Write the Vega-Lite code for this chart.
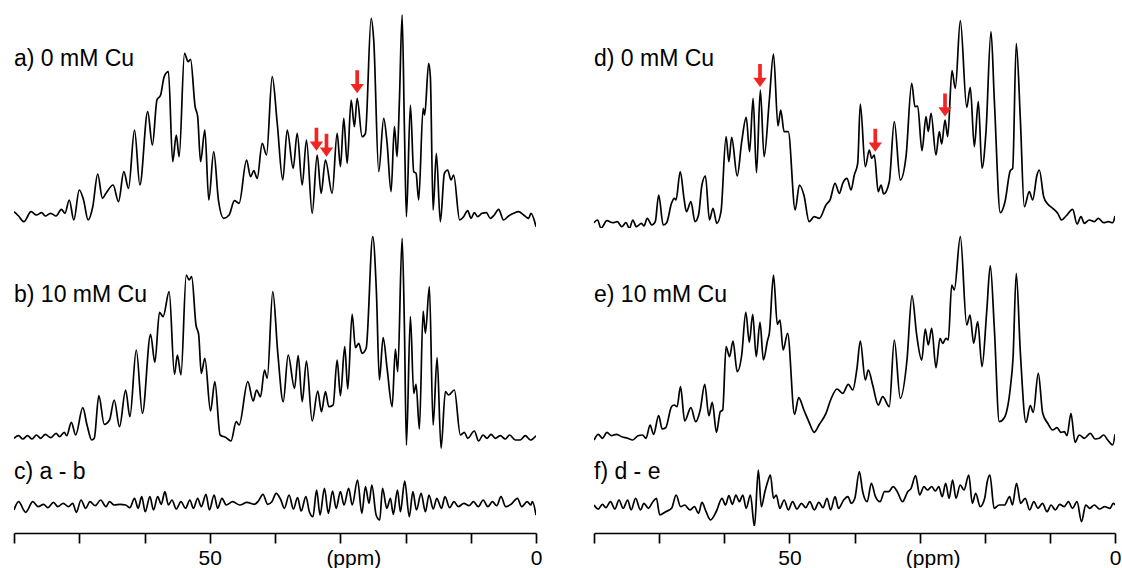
{
"$schema": "https://vega.github.io/schema/vega-lite/v6.json",
"padding": {"left": 13, "top": 8, "right": 0, "bottom": 0},
"config": {"view": {"stroke": null}, "font": "Liberation Sans", "text": {"font": "Liberation Sans"}},
"datasets": {
"a": [{"ppm":80.0,"i":16.3},{"ppm":79.30,"i":12},{"ppm":78.48,"i":6.3},{"ppm":77.38,"i":16.3},{"ppm":76.57,"i":13},{"ppm":75.76,"i":15.3},{"ppm":75.21,"i":12},{"ppm":74.38,"i":14.7},{"ppm":73.55,"i":12},{"ppm":72.74,"i":18.7},{"ppm":72.19,"i":14.7},{"ppm":71.53,"i":28},{"ppm":70.83,"i":8},{"ppm":70.00,"i":38},{"ppm":69.34,"i":28},{"ppm":68.64,"i":8},{"ppm":67.93,"i":21.3},{"ppm":67.17,"i":54},{"ppm":66.45,"i":29.7},{"ppm":65.90,"i":34.7},{"ppm":64.81,"i":43},{"ppm":63.98,"i":26.3},{"ppm":63.17,"i":56.3},{"ppm":62.45,"i":39.7},{"ppm":61.53,"i":98},{"ppm":60.71,"i":43},{"ppm":59.51,"i":116.3},{"ppm":58.79,"i":83},{"ppm":58.09,"i":128},{"ppm":57.53,"i":133},{"ppm":56.98,"i":151.3},{"ppm":56.33,"i":156.3},{"ppm":55.68,"i":66.3},{"ppm":55.13,"i":93},{"ppm":54.69,"i":71.3},{"ppm":53.87,"i":174.7},{"ppm":53.32,"i":166.3},{"ppm":52.94,"i":168.7},{"ppm":52.24,"i":121.3},{"ppm":51.85,"i":111.3},{"ppm":51.41,"i":66.3},{"ppm":50.75,"i":98},{"ppm":50.15,"i":28},{"ppm":49.39,"i":76.3},{"ppm":48.67,"i":28},{"ppm":47.86,"i":9.7},{"ppm":47.03,"i":13},{"ppm":46.22,"i":27.3},{"ppm":45.50,"i":24.7},{"ppm":44.36,"i":68},{"ppm":43.75,"i":51.3},{"ppm":43.25,"i":57.3},{"ppm":42.73,"i":49.7},{"ppm":41.96,"i":84.7},{"ppm":41.30,"i":73},{"ppm":40.43,"i":151.3},{"ppm":39.66,"i":105},{"ppm":38.81,"i":48},{"ppm":38.13,"i":98},{"ppm":37.21,"i":59.7},{"ppm":36.60,"i":94.7},{"ppm":35.83,"i":43},{"ppm":35.18,"i":88},{"ppm":34.30,"i":14.7},{"ppm":33.54,"i":73},{"ppm":32.93,"i":34.7},{"ppm":32.27,"i":68},{"ppm":31.24,"i":34.7},{"ppm":30.48,"i":94.7},{"ppm":29.97,"i":61.3},{"ppm":29.46,"i":109.7},{"ppm":28.94,"i":64.7},{"ppm":28.33,"i":128},{"ppm":27.83,"i":101.3},{"ppm":27.41,"i":129.7},{"ppm":26.65,"i":91.3},{"ppm":26.14,"i":94.7},{"ppm":25.27,"i":209.7},{"ppm":24.87,"i":188},{"ppm":24.10,"i":56.3},{"ppm":23.34,"i":109.7},{"ppm":22.82,"i":84.7},{"ppm":22.21,"i":36.3},{"ppm":21.70,"i":101.3},{"ppm":21.29,"i":71.3},{"ppm":20.93,"i":128},{"ppm":20.52,"i":213},{"ppm":20.17,"i":101.3},{"ppm":19.86,"i":11.3},{"ppm":19.25,"i":123},{"ppm":18.74,"i":56.3},{"ppm":18.38,"i":54.7},{"ppm":17.98,"i":28},{"ppm":17.30,"i":119.7},{"ppm":17.06,"i":113},{"ppm":16.45,"i":164.7},{"ppm":16.19,"i":151.3},{"ppm":15.77,"i":18},{"ppm":15.27,"i":74.7},{"ppm":14.66,"i":6.3},{"ppm":14.04,"i":54.7},{"ppm":13.54,"i":58},{"ppm":13.02,"i":48},{"ppm":12.62,"i":53},{"ppm":11.70,"i":8},{"ppm":11.09,"i":11.3},{"ppm":10.47,"i":17.3},{"ppm":9.95,"i":9.7},{"ppm":9.45,"i":15.3},{"ppm":8.94,"i":11.3},{"ppm":8.27,"i":14.7},{"ppm":7.61,"i":15.3},{"ppm":7.00,"i":9.7},{"ppm":6.39,"i":13},{"ppm":5.73,"i":18.7},{"ppm":4.96,"i":8},{"ppm":4.20,"i":12},{"ppm":3.43,"i":14.7},{"ppm":2.66,"i":16.3},{"ppm":1.90,"i":13},{"ppm":1.13,"i":9.7},{"ppm":0.77,"i":14.7},{"ppm":0.0,"i":1.3}],
"b": [{"ppm":80.0,"i":13.7},{"ppm":79.30,"i":16.3},{"ppm":78.65,"i":13},{"ppm":77.93,"i":16.3},{"ppm":77.23,"i":13},{"ppm":76.57,"i":17},{"ppm":75.91,"i":13.7},{"ppm":75.21,"i":17.7},{"ppm":74.38,"i":14.3},{"ppm":73.55,"i":18.7},{"ppm":73.02,"i":15.3},{"ppm":72.30,"i":19.7},{"ppm":71.92,"i":16.3},{"ppm":71.21,"i":29.7},{"ppm":70.55,"i":17},{"ppm":69.46,"i":44.3},{"ppm":68.81,"i":27},{"ppm":68.09,"i":12},{"ppm":67.70,"i":13.7},{"ppm":67.00,"i":56.3},{"ppm":66.17,"i":27.7},{"ppm":65.36,"i":32},{"ppm":64.64,"i":52},{"ppm":63.83,"i":25.3},{"ppm":62.89,"i":62},{"ppm":62.24,"i":35.3},{"ppm":61.26,"i":102},{"ppm":60.32,"i":38.7},{"ppm":59.07,"i":117.7},{"ppm":58.41,"i":89.7},{"ppm":57.70,"i":139.7},{"ppm":57.15,"i":135.3},{"ppm":56.22,"i":160.3},{"ppm":55.41,"i":77.7},{"ppm":54.96,"i":97},{"ppm":54.41,"i":77},{"ppm":53.60,"i":177},{"ppm":53.16,"i":172},{"ppm":52.77,"i":175.3},{"ppm":52.11,"i":127},{"ppm":51.69,"i":117},{"ppm":51.30,"i":78.7},{"ppm":50.75,"i":93.7},{"ppm":49.88,"i":41},{"ppm":49.22,"i":70.3},{"ppm":48.41,"i":17},{"ppm":47.58,"i":14.7},{"ppm":46.75,"i":11},{"ppm":45.94,"i":30.3},{"ppm":45.50,"i":27},{"ppm":44.17,"i":70.3},{"ppm":43.34,"i":51},{"ppm":42.83,"i":62},{"ppm":42.22,"i":55.3},{"ppm":41.61,"i":82},{"ppm":41.19,"i":73.7},{"ppm":40.34,"i":160.3},{"ppm":39.57,"i":98.7},{"ppm":38.74,"i":50.3},{"ppm":37.98,"i":97},{"ppm":37.01,"i":63.7},{"ppm":36.45,"i":96.3},{"ppm":35.83,"i":50.3},{"ppm":35.18,"i":91},{"ppm":34.30,"i":31},{"ppm":33.45,"i":61},{"ppm":32.88,"i":40.3},{"ppm":32.27,"i":60.3},{"ppm":31.76,"i":45.3},{"ppm":31.09,"i":47},{"ppm":30.48,"i":92},{"ppm":29.97,"i":56.3},{"ppm":29.31,"i":105.3},{"ppm":28.85,"i":63},{"ppm":28.18,"i":137.7},{"ppm":27.67,"i":104.3},{"ppm":27.17,"i":108.7},{"ppm":26.65,"i":98.7},{"ppm":26.03,"i":103.7},{"ppm":25.02,"i":215.3},{"ppm":24.46,"i":160.3},{"ppm":24.00,"i":72},{"ppm":23.43,"i":114.3},{"ppm":22.82,"i":83.7},{"ppm":22.05,"i":45.3},{"ppm":21.55,"i":103},{"ppm":21.19,"i":80.3},{"ppm":20.52,"i":213.7},{"ppm":20.17,"i":127},{"ppm":19.86,"i":7},{"ppm":19.25,"i":135.3},{"ppm":18.74,"i":58.7},{"ppm":18.38,"i":67.7},{"ppm":17.87,"i":23},{"ppm":17.30,"i":141},{"ppm":16.95,"i":118.7},{"ppm":16.34,"i":165.3},{"ppm":15.77,"i":27},{"ppm":15.16,"i":94.3},{"ppm":14.55,"i":3.7},{"ppm":13.89,"i":60.3},{"ppm":13.38,"i":57},{"ppm":12.51,"i":62},{"ppm":11.59,"i":17},{"ppm":10.98,"i":19.7},{"ppm":10.47,"i":13.7},{"ppm":9.45,"i":21},{"ppm":8.79,"i":11},{"ppm":8.12,"i":17},{"ppm":7.50,"i":13.7},{"ppm":6.89,"i":17.7},{"ppm":6.23,"i":13.7},{"ppm":5.47,"i":16.3},{"ppm":4.70,"i":13},{"ppm":4.04,"i":17},{"ppm":3.17,"i":12},{"ppm":2.40,"i":12},{"ppm":1.64,"i":16.3},{"ppm":0.87,"i":12},{"ppm":0.0,"i":16.3}],
"c": [{"ppm":80.0,"i":16},{"ppm":79.30,"i":24.3},{"ppm":78.21,"i":13.7},{"ppm":77.12,"i":24.3},{"ppm":76.29,"i":19.3},{"ppm":75.47,"i":21.7},{"ppm":74.82,"i":18.3},{"ppm":73.94,"i":23.7},{"ppm":73.29,"i":19.3},{"ppm":72.47,"i":22.7},{"ppm":71.64,"i":19.3},{"ppm":71.00,"i":22.7},{"ppm":70.44,"i":13.7},{"ppm":69.73,"i":26},{"ppm":69.02,"i":17.7},{"ppm":68.36,"i":24.3},{"ppm":67.55,"i":20.3},{"ppm":66.72,"i":26},{"ppm":65.90,"i":19.3},{"ppm":65.36,"i":24.3},{"ppm":64.64,"i":21},{"ppm":63.72,"i":21.7},{"ppm":62.89,"i":21},{"ppm":62.24,"i":18.3},{"ppm":61.53,"i":27.7},{"ppm":60.98,"i":17.7},{"ppm":60.43,"i":29.3},{"ppm":59.89,"i":14.3},{"ppm":59.17,"i":29.3},{"ppm":58.62,"i":16},{"ppm":57.98,"i":29.3},{"ppm":57.43,"i":21.7},{"ppm":56.88,"i":34.3},{"ppm":56.33,"i":21},{"ppm":55.79,"i":26},{"ppm":55.13,"i":17},{"ppm":54.41,"i":24.3},{"ppm":53.71,"i":17.7},{"ppm":53.05,"i":26},{"ppm":52.50,"i":17.7},{"ppm":51.85,"i":27.7},{"ppm":51.30,"i":19.3},{"ppm":50.58,"i":31.7},{"ppm":50.05,"i":16},{"ppm":49.33,"i":31},{"ppm":48.79,"i":17.7},{"ppm":48.13,"i":27.7},{"ppm":47.47,"i":21},{"ppm":46.49,"i":24.3},{"ppm":45.39,"i":21},{"ppm":44.30,"i":23.7},{"ppm":43.20,"i":21.7},{"ppm":42.54,"i":25},{"ppm":41.84,"i":31.7},{"ppm":41.13,"i":21.7},{"ppm":40.48,"i":24.3},{"ppm":39.82,"i":32.7},{"ppm":39.10,"i":26},{"ppm":38.56,"i":17.7},{"ppm":37.84,"i":31},{"ppm":37.18,"i":17},{"ppm":36.54,"i":28.3},{"ppm":35.99,"i":15},{"ppm":35.27,"i":29.3},{"ppm":34.73,"i":14.3},{"ppm":34.18,"i":9.3},{"ppm":33.63,"i":36},{"ppm":33.09,"i":11},{"ppm":32.43,"i":37.7},{"ppm":31.82,"i":12.7},{"ppm":31.18,"i":35},{"ppm":30.63,"i":17.7},{"ppm":29.97,"i":34.3},{"ppm":29.42,"i":21},{"ppm":28.71,"i":37.7},{"ppm":28.16,"i":21},{"ppm":27.35,"i":46},{"ppm":26.69,"i":12.7},{"ppm":26.14,"i":39.3},{"ppm":25.59,"i":22.7},{"ppm":25.16,"i":41},{"ppm":24.50,"i":11},{"ppm":23.95,"i":6},{"ppm":23.52,"i":37.7},{"ppm":22.86,"i":17.7},{"ppm":22.31,"i":27.7},{"ppm":21.87,"i":11.7},{"ppm":21.23,"i":36},{"ppm":20.78,"i":14.3},{"ppm":20.12,"i":45},{"ppm":19.42,"i":9.3},{"ppm":18.87,"i":34.3},{"ppm":18.32,"i":16},{"ppm":17.61,"i":32.7},{"ppm":16.95,"i":14.3},{"ppm":16.40,"i":31},{"ppm":15.74,"i":17},{"ppm":15.21,"i":27.7},{"ppm":14.49,"i":17.7},{"ppm":13.95,"i":29.3},{"ppm":13.23,"i":18.3},{"ppm":12.57,"i":24.3},{"ppm":11.91,"i":19.3},{"ppm":11.04,"i":22.7},{"ppm":10.28,"i":20.3},{"ppm":9.57,"i":24.3},{"ppm":8.85,"i":19.3},{"ppm":8.09,"i":26},{"ppm":7.38,"i":19.3},{"ppm":6.68,"i":24.3},{"ppm":6.02,"i":20.3},{"ppm":5.36,"i":29.3},{"ppm":4.64,"i":19.3},{"ppm":3.83,"i":21.7},{"ppm":2.85,"i":27.7},{"ppm":2.19,"i":19.3},{"ppm":1.36,"i":24.3},{"ppm":0.81,"i":21},{"ppm":0.55,"i":24.3},{"ppm":0.0,"i":11}],
"d": [{"ppm":80.0,"i":5.3},{"ppm":79.45,"i":8},{"ppm":78.93,"i":-0.3},{"ppm":78.02,"i":7.3},{"ppm":77.11,"i":5.3},{"ppm":76.42,"i":6.3},{"ppm":75.73,"i":1.3},{"ppm":75.10,"i":5.3},{"ppm":74.56,"i":-0.3},{"ppm":74.04,"i":8},{"ppm":73.50,"i":1.3},{"ppm":72.71,"i":4.7},{"ppm":72.34,"i":2},{"ppm":71.82,"i":9.7},{"ppm":71.12,"i":3},{"ppm":70.59,"i":6.3},{"ppm":70.07,"i":33},{"ppm":69.37,"i":3},{"ppm":68.84,"i":5.3},{"ppm":68.10,"i":24.7},{"ppm":67.67,"i":29.7},{"ppm":67.41,"i":28},{"ppm":66.76,"i":56.3},{"ppm":66.18,"i":29.7},{"ppm":65.81,"i":16.3},{"ppm":65.12,"i":26.3},{"ppm":64.49,"i":6.3},{"ppm":63.95,"i":13},{"ppm":63.43,"i":43},{"ppm":62.89,"i":52},{"ppm":62.27,"i":8},{"ppm":61.73,"i":19.7},{"ppm":61.14,"i":4.7},{"ppm":60.50,"i":16.3},{"ppm":59.72,"i":91.3},{"ppm":59.29,"i":66.3},{"ppm":58.86,"i":90.7},{"ppm":58.01,"i":52},{"ppm":57.32,"i":86.3},{"ppm":56.63,"i":110.7},{"ppm":56.11,"i":76.3},{"ppm":55.57,"i":129.7},{"ppm":55.05,"i":55.3},{"ppm":54.46,"i":138},{"ppm":53.88,"i":71.3},{"ppm":53.08,"i":128},{"ppm":52.44,"i":174},{"ppm":51.75,"i":102},{"ppm":51.33,"i":118},{"ppm":50.80,"i":96.3},{"ppm":50.17,"i":96.3},{"ppm":49.11,"i":18},{"ppm":48.46,"i":43},{"ppm":47.77,"i":33},{"ppm":46.97,"i":6.3},{"ppm":46.19,"i":11.3},{"ppm":45.39,"i":9.7},{"ppm":44.38,"i":23},{"ppm":43.72,"i":28.7},{"ppm":42.99,"i":44.7},{"ppm":42.33,"i":34.7},{"ppm":41.81,"i":44.7},{"ppm":41.15,"i":49.7},{"ppm":40.54,"i":38},{"ppm":40.03,"i":53},{"ppm":39.51,"i":64.7},{"ppm":39.11,"i":124},{"ppm":38.34,"i":61.3},{"ppm":37.73,"i":78},{"ppm":37.36,"i":69.7},{"ppm":36.96,"i":73},{"ppm":36.35,"i":36.3},{"ppm":35.93,"i":43},{"ppm":35.52,"i":34},{"ppm":34.66,"i":46.3},{"ppm":33.89,"i":106.3},{"ppm":32.97,"i":48},{"ppm":32.09,"i":71.3},{"ppm":31.22,"i":144.7},{"ppm":30.71,"i":121.3},{"ppm":30.30,"i":122},{"ppm":29.64,"i":77.3},{"ppm":29.02,"i":111.3},{"ppm":28.67,"i":96.3},{"ppm":28.25,"i":114.7},{"ppm":27.49,"i":73},{"ppm":26.98,"i":96.3},{"ppm":26.61,"i":84},{"ppm":26.10,"i":108},{"ppm":25.69,"i":91.3},{"ppm":25.03,"i":157.3},{"ppm":24.52,"i":139.7},{"ppm":23.75,"i":207.3},{"ppm":22.77,"i":120.7},{"ppm":22.22,"i":140.7},{"ppm":21.60,"i":81.3},{"ppm":20.99,"i":126.3},{"ppm":20.42,"i":59.7},{"ppm":19.81,"i":96.3},{"ppm":19.04,"i":196.3},{"ppm":18.53,"i":128},{"ppm":17.61,"i":15.3},{"ppm":16.89,"i":26.3},{"ppm":16.08,"i":57.3},{"ppm":15.71,"i":59.7},{"ppm":15.16,"i":184.7},{"ppm":14.54,"i":109.7},{"ppm":13.93,"i":21.3},{"ppm":13.16,"i":36.3},{"ppm":12.64,"i":28},{"ppm":11.98,"i":53},{"ppm":11.62,"i":58},{"ppm":10.95,"i":31.3},{"ppm":10.33,"i":24},{"ppm":9.57,"i":19.7},{"ppm":8.80,"i":14.7},{"ppm":8.18,"i":8},{"ppm":7.52,"i":12},{"ppm":6.50,"i":18.7},{"ppm":5.83,"i":4},{"ppm":5.22,"i":11.3},{"ppm":4.71,"i":4.7},{"ppm":3.95,"i":8},{"ppm":3.18,"i":6.3},{"ppm":2.56,"i":9.7},{"ppm":1.74,"i":5.3},{"ppm":1.03,"i":6.3},{"ppm":0.35,"i":5.3},{"ppm":0.0,"i":12}],
"e": [{"ppm":80.0,"i":12},{"ppm":79.34,"i":17.7},{"ppm":78.71,"i":13.7},{"ppm":78.02,"i":19.7},{"ppm":77.33,"i":16.3},{"ppm":76.59,"i":17.7},{"ppm":75.73,"i":15.3},{"ppm":74.84,"i":13.7},{"ppm":74.04,"i":12},{"ppm":73.24,"i":16.3},{"ppm":72.55,"i":17},{"ppm":72.01,"i":13.7},{"ppm":71.39,"i":27},{"ppm":70.85,"i":17.7},{"ppm":70.07,"i":36.3},{"ppm":69.53,"i":23},{"ppm":68.99,"i":24.3},{"ppm":68.10,"i":45.3},{"ppm":67.67,"i":47},{"ppm":67.24,"i":45.3},{"ppm":66.72,"i":65.3},{"ppm":66.07,"i":31},{"ppm":65.12,"i":44.3},{"ppm":64.38,"i":30.3},{"ppm":63.69,"i":42},{"ppm":63.00,"i":67.7},{"ppm":62.36,"i":36.3},{"ppm":61.84,"i":49.7},{"ppm":61.19,"i":19.7},{"ppm":60.61,"i":40.3},{"ppm":60.24,"i":42},{"ppm":59.72,"i":105.3},{"ppm":59.18,"i":95.3},{"ppm":58.66,"i":111},{"ppm":58.01,"i":80.3},{"ppm":57.32,"i":97},{"ppm":56.69,"i":139.7},{"ppm":56.15,"i":109.7},{"ppm":55.63,"i":137.7},{"ppm":55.09,"i":95.3},{"ppm":54.51,"i":129.7},{"ppm":53.99,"i":92},{"ppm":53.34,"i":112},{"ppm":53.08,"i":118.7},{"ppm":52.44,"i":177},{"ppm":51.85,"i":127.7},{"ppm":51.44,"i":132},{"ppm":50.96,"i":102},{"ppm":50.27,"i":118.7},{"ppm":49.21,"i":37.7},{"ppm":48.57,"i":54.3},{"ppm":47.77,"i":42},{"ppm":46.97,"i":29.7},{"ppm":46.19,"i":19.7},{"ppm":45.39,"i":27.7},{"ppm":44.38,"i":38.7},{"ppm":43.61,"i":53},{"ppm":42.69,"i":63},{"ppm":41.81,"i":58.7},{"ppm":40.95,"i":67.7},{"ppm":40.28,"i":62},{"ppm":39.62,"i":83.7},{"ppm":39.11,"i":111},{"ppm":38.34,"i":72},{"ppm":37.88,"i":82},{"ppm":37.21,"i":67},{"ppm":36.35,"i":47},{"ppm":35.67,"i":55.3},{"ppm":34.66,"i":45.3},{"ppm":33.89,"i":112},{"ppm":32.97,"i":53.7},{"ppm":31.94,"i":92},{"ppm":31.17,"i":156.3},{"ppm":30.45,"i":117},{"ppm":29.68,"i":92},{"ppm":29.13,"i":123},{"ppm":28.67,"i":107},{"ppm":28.15,"i":123.7},{"ppm":27.49,"i":84.3},{"ppm":26.87,"i":113.7},{"ppm":26.46,"i":108.7},{"ppm":25.95,"i":113.7},{"ppm":25.60,"i":112},{"ppm":25.07,"i":167},{"ppm":24.68,"i":162},{"ppm":23.75,"i":215.3},{"ppm":22.77,"i":127},{"ppm":22.26,"i":137},{"ppm":21.70,"i":108.7},{"ppm":21.08,"i":130.3},{"ppm":20.42,"i":85.3},{"ppm":19.70,"i":140.3},{"ppm":19.15,"i":186.3},{"ppm":18.53,"i":123.7},{"ppm":17.77,"i":30.3},{"ppm":17.00,"i":34.3},{"ppm":16.08,"i":63.7},{"ppm":15.66,"i":93.7},{"ppm":15.16,"i":178.7},{"ppm":14.54,"i":100.3},{"ppm":13.67,"i":29.7},{"ppm":13.01,"i":46.3},{"ppm":12.55,"i":39.7},{"ppm":11.78,"i":78.7},{"ppm":11.10,"i":38.7},{"ppm":10.33,"i":28.7},{"ppm":9.57,"i":22},{"ppm":8.91,"i":24.3},{"ppm":8.29,"i":19.7},{"ppm":7.79,"i":20.3},{"ppm":7.37,"i":16.3},{"ppm":6.76,"i":38.7},{"ppm":6.14,"i":9.7},{"ppm":5.48,"i":17},{"ppm":4.71,"i":13.7},{"ppm":3.79,"i":18.7},{"ppm":3.07,"i":13},{"ppm":2.41,"i":13.7},{"ppm":1.74,"i":17},{"ppm":1.12,"i":12},{"ppm":0.35,"i":7},{"ppm":0.0,"i":17.7}],
"f": [{"ppm":80.0,"i":21},{"ppm":79.34,"i":17},{"ppm":78.71,"i":21.7},{"ppm":78.17,"i":18.3},{"ppm":77.48,"i":24.3},{"ppm":76.79,"i":17},{"ppm":76.16,"i":26},{"ppm":75.52,"i":17.7},{"ppm":74.83,"i":26},{"ppm":74.30,"i":16},{"ppm":73.61,"i":27.7},{"ppm":72.86,"i":16},{"ppm":72.34,"i":22.7},{"ppm":71.65,"i":17.7},{"ppm":70.96,"i":24.3},{"ppm":70.42,"i":27.7},{"ppm":69.90,"i":11},{"ppm":68.99,"i":14.3},{"ppm":68.08,"i":17.7},{"ppm":67.39,"i":31},{"ppm":66.70,"i":19.3},{"ppm":66.07,"i":21},{"ppm":65.27,"i":16},{"ppm":64.58,"i":19.3},{"ppm":63.95,"i":12.7},{"ppm":63.42,"i":23.7},{"ppm":62.79,"i":14.3},{"ppm":62.10,"i":6},{"ppm":61.19,"i":15},{"ppm":60.35,"i":27.7},{"ppm":59.81,"i":21},{"ppm":59.29,"i":30.3},{"ppm":58.75,"i":21.7},{"ppm":58.21,"i":31},{"ppm":57.69,"i":24.3},{"ppm":57.15,"i":31},{"ppm":56.63,"i":17.7},{"ppm":55.98,"i":31},{"ppm":55.36,"i":-0.7},{"ppm":54.77,"i":56},{"ppm":54.30,"i":19.3},{"ppm":53.76,"i":34.3},{"ppm":53.33,"i":44.3},{"ppm":52.91,"i":51},{"ppm":52.44,"i":27.7},{"ppm":52.01,"i":31},{"ppm":51.47,"i":17.7},{"ppm":50.80,"i":26},{"ppm":50.15,"i":16},{"ppm":49.52,"i":24.3},{"ppm":48.83,"i":17},{"ppm":48.14,"i":22.7},{"ppm":47.49,"i":18.3},{"ppm":46.86,"i":24.3},{"ppm":46.17,"i":16},{"ppm":45.48,"i":23.7},{"ppm":44.84,"i":18.3},{"ppm":44.21,"i":27.7},{"ppm":43.67,"i":16},{"ppm":42.98,"i":29.3},{"ppm":42.46,"i":17.7},{"ppm":41.66,"i":26},{"ppm":41.01,"i":29.3},{"ppm":40.49,"i":22.7},{"ppm":39.95,"i":27.7},{"ppm":39.26,"i":54.3},{"ppm":38.74,"i":34.3},{"ppm":38.05,"i":24.3},{"ppm":37.41,"i":42.7},{"ppm":36.78,"i":29.3},{"ppm":36.08,"i":24.3},{"ppm":35.39,"i":34.3},{"ppm":34.76,"i":34.3},{"ppm":34.07,"i":39.3},{"ppm":33.43,"i":34.3},{"ppm":32.63,"i":24.3},{"ppm":31.83,"i":34.3},{"ppm":31.31,"i":37.7},{"ppm":30.62,"i":50.3},{"ppm":29.99,"i":31},{"ppm":29.34,"i":39.3},{"ppm":28.81,"i":36},{"ppm":28.13,"i":39.3},{"ppm":27.59,"i":35},{"ppm":27.06,"i":39.3},{"ppm":26.53,"i":29.3},{"ppm":26.00,"i":42.7},{"ppm":25.47,"i":27.7},{"ppm":24.94,"i":46},{"ppm":24.41,"i":27.7},{"ppm":23.77,"i":41},{"ppm":23.19,"i":36},{"ppm":22.45,"i":51},{"ppm":21.91,"i":22.7},{"ppm":21.39,"i":32.7},{"ppm":20.70,"i":19.3},{"ppm":20.01,"i":27.7},{"ppm":19.62,"i":44.3},{"ppm":19.21,"i":51},{"ppm":18.56,"i":17.7},{"ppm":17.78,"i":21},{"ppm":16.98,"i":21},{"ppm":16.18,"i":29.3},{"ppm":15.75,"i":21},{"ppm":15.12,"i":42.7},{"ppm":14.48,"i":22.7},{"ppm":13.79,"i":27.7},{"ppm":13.10,"i":16},{"ppm":12.47,"i":24.3},{"ppm":11.82,"i":17.7},{"ppm":11.13,"i":22.7},{"ppm":10.44,"i":14.3},{"ppm":9.81,"i":21},{"ppm":9.17,"i":16},{"ppm":8.49,"i":21.7},{"ppm":7.80,"i":19.3},{"ppm":7.16,"i":24.3},{"ppm":6.53,"i":17.7},{"ppm":5.83,"i":24.3},{"ppm":5.14,"i":4.3},{"ppm":4.50,"i":21},{"ppm":3.87,"i":17.7},{"ppm":3.18,"i":21},{"ppm":2.38,"i":17},{"ppm":1.58,"i":19.3},{"ppm":0.78,"i":17.7},{"ppm":0.26,"i":22.7},{"ppm":0.0,"i":21}],
"arrowsA": [{"ppm":33.65,"i":77.3},{"ppm":32.11,"i":71.3},{"ppm":27.41,"i":134.7}],
"arrowsD": [{"ppm":54.51,"i":141},{"ppm":36.81,"i":76.3},{"ppm":26.10,"i":111.5}]
},
"spacing": 51,
"hconcat": [
{"vconcat": [
 {"width": 522, "height": 220, "layer": [
  {"data": {"name": "a"}, "mark": {"type": "line", "color": "black", "strokeWidth": 1.7, "interpolate": "monotone", "clip": true},
   "encoding": {"x": {"field": "ppm", "type": "quantitative", "scale": {"domain": [80, 0], "nice": false, "zero": false}, "axis": null},
                "y": {"field": "i", "type": "quantitative", "scale": {"domain": [0, 220], "nice": false, "zero": false}, "axis": null}}},
  {"data": {"name": "arrowsA"}, "mark": {"type": "point", "shape": "M-0.16,-1L0.16,-1L0.16,0.2L0.58,0.2L0,1L-0.58,0.2L-0.16,0.2Z", "filled": true, "color": "#f22424", "opacity": 1, "size": 529, "yOffset": -11.5, "strokeWidth": 0},
   "encoding": {"x": {"field": "ppm", "type": "quantitative"}, "y": {"field": "i", "type": "quantitative"}}},
  {"data": {"values": [{}]}, "mark": {"type": "text", "align": "left", "baseline": "middle", "fontSize": 23, "color": "black"},
   "encoding": {"x": {"datum": 80}, "y": {"datum": 169}, "text": {"value": "a) 0 mM Cu"}}}
 ]},
 {"width": 522, "height": 220, "layer": [
  {"data": {"name": "b"}, "mark": {"type": "line", "color": "black", "strokeWidth": 1.7, "interpolate": "monotone", "clip": true},
   "encoding": {"x": {"field": "ppm", "type": "quantitative", "scale": {"domain": [80, 0], "nice": false, "zero": false}, "axis": null},
                "y": {"field": "i", "type": "quantitative", "scale": {"domain": [0, 220], "nice": false, "zero": false}, "axis": null}}},
  {"data": {"values": [{}]}, "mark": {"type": "text", "align": "left", "baseline": "middle", "fontSize": 23, "color": "black"},
   "encoding": {"x": {"datum": 80}, "y": {"datum": 157}, "text": {"value": "b) 10 mM Cu"}}}
 ]},
 {"width": 522, "height": 70, "layer": [
  {"data": {"name": "c"}, "mark": {"type": "line", "color": "black", "strokeWidth": 1.7, "interpolate": "monotone", "clip": true},
   "encoding": {"x": {"field": "ppm", "type": "quantitative", "scale": {"domain": [80, 0], "nice": false, "zero": false},
                  "axis": {"values": [80,70,60,50,40,30,20,10,0], "labelExpr": "datum.value == 50 ? '50' : datum.value == 0 ? '0' : ''", "offset": 7, "tickSize": 10, "tickWidth": 1.7, "tickColor": "black", "domainWidth": 1.7, "domainColor": "black", "labelColor": "black", "labelFontSize": 21, "labelFont": "Liberation Sans", "labelPadding": 4, "labelFlush": false, "labelOverlap": false, "grid": false, "title": "(ppm)", "titleX": 339.3, "titleY": 14, "titleBaseline": "top", "titleAlign": "center", "titleFontSize": 21, "titleFontWeight": "normal", "titleFont": "Liberation Sans", "titleColor": "black"}},
                "y": {"field": "i", "type": "quantitative", "scale": {"domain": [0, 70], "nice": false, "zero": false}, "axis": null}}},
  {"data": {"values": [{}]}, "mark": {"type": "text", "align": "left", "baseline": "middle", "fontSize": 23, "color": "black"},
   "encoding": {"x": {"datum": 80}, "y": {"datum": 54}, "text": {"value": "c) a - b"}}}
 ]}
], "spacing": 4, "bounds": "flush"},
{"vconcat": [
 {"width": 521, "height": 220, "layer": [
  {"data": {"name": "d"}, "mark": {"type": "line", "color": "black", "strokeWidth": 1.7, "interpolate": "monotone", "clip": true},
   "encoding": {"x": {"field": "ppm", "type": "quantitative", "scale": {"domain": [80, 0], "nice": false, "zero": false}, "axis": null},
                "y": {"field": "i", "type": "quantitative", "scale": {"domain": [0, 220], "nice": false, "zero": false}, "axis": null}}},
  {"data": {"name": "arrowsD"}, "mark": {"type": "point", "shape": "M-0.16,-1L0.16,-1L0.16,0.2L0.58,0.2L0,1L-0.58,0.2L-0.16,0.2Z", "filled": true, "color": "#f22424", "opacity": 1, "size": 529, "yOffset": -11.5, "strokeWidth": 0},
   "encoding": {"x": {"field": "ppm", "type": "quantitative"}, "y": {"field": "i", "type": "quantitative"}}},
  {"data": {"values": [{}]}, "mark": {"type": "text", "align": "left", "baseline": "middle", "fontSize": 23, "color": "black"},
   "encoding": {"x": {"datum": 80}, "y": {"datum": 169}, "text": {"value": "d) 0 mM Cu"}}}
 ]},
 {"width": 521, "height": 220, "layer": [
  {"data": {"name": "e"}, "mark": {"type": "line", "color": "black", "strokeWidth": 1.7, "interpolate": "monotone", "clip": true},
   "encoding": {"x": {"field": "ppm", "type": "quantitative", "scale": {"domain": [80, 0], "nice": false, "zero": false}, "axis": null},
                "y": {"field": "i", "type": "quantitative", "scale": {"domain": [0, 220], "nice": false, "zero": false}, "axis": null}}},
  {"data": {"values": [{}]}, "mark": {"type": "text", "align": "left", "baseline": "middle", "fontSize": 23, "color": "black"},
   "encoding": {"x": {"datum": 80}, "y": {"datum": 157}, "text": {"value": "e) 10 mM Cu"}}}
 ]},
 {"width": 521, "height": 70, "layer": [
  {"data": {"name": "f"}, "mark": {"type": "line", "color": "black", "strokeWidth": 1.7, "interpolate": "monotone", "clip": true},
   "encoding": {"x": {"field": "ppm", "type": "quantitative", "scale": {"domain": [80, 0], "nice": false, "zero": false},
                  "axis": {"values": [80,70,60,50,40,30,20,10,0], "labelExpr": "datum.value == 50 ? '50' : datum.value == 0 ? '0' : ''", "offset": 7, "tickSize": 10, "tickWidth": 1.7, "tickColor": "black", "domainWidth": 1.7, "domainColor": "black", "labelColor": "black", "labelFontSize": 21, "labelFont": "Liberation Sans", "labelPadding": 4, "labelFlush": false, "labelOverlap": false, "grid": false, "title": "(ppm)", "titleX": 338.7, "titleY": 14, "titleBaseline": "top", "titleAlign": "center", "titleFontSize": 21, "titleFontWeight": "normal", "titleFont": "Liberation Sans", "titleColor": "black"}},
                "y": {"field": "i", "type": "quantitative", "scale": {"domain": [0, 70], "nice": false, "zero": false}, "axis": null}}},
  {"data": {"values": [{}]}, "mark": {"type": "text", "align": "left", "baseline": "middle", "fontSize": 23, "color": "black"},
   "encoding": {"x": {"datum": 80}, "y": {"datum": 54}, "text": {"value": "f) d - e"}}}
 ]}
], "spacing": 4, "bounds": "flush"}
]
}
